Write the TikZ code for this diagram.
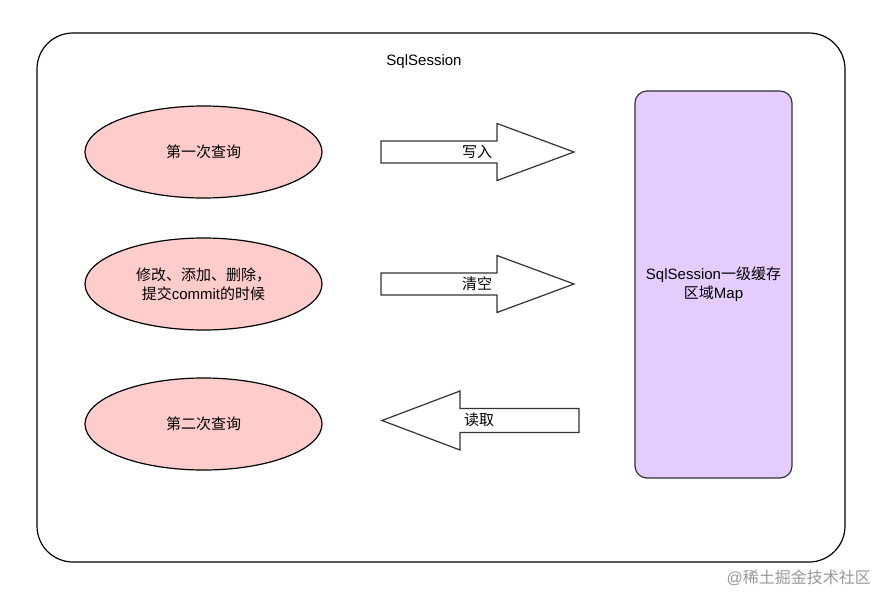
\documentclass[tikz,border=0pt]{standalone}
\usepackage{fontspec}
\setmainfont{Liberation Sans}
\newfontfamily\cjk{Noto Sans CJK SC}
\usetikzlibrary{shapes.geometric}
\begin{document}
\begin{tikzpicture}[x=1pt,y=-1pt,
  every node/.style={font=\fontsize{15}{19}\selectfont, align=center, inner sep=0pt},
  pill/.style={draw=black, fill=pinkfill, line width=1.2pt, ellipse, minimum width=237pt, minimum height=92pt},
  cachebox/.style={draw=black!80, fill=lilac, line width=1.2pt, rounded corners=12pt},
  fatarrow/.style={draw=black!80, fill=white, line width=1.2pt, line join=miter},
  lbl/.style={}
]
\definecolor{pinkfill}{HTML}{FFCCCC}
\definecolor{lilac}{HTML}{E5CCFF}
\useasboundingbox (0,0) rectangle (889,606);
\fill[white] (0,0) rectangle (889,606);
% outer container
\draw[line width=1.2pt, rounded corners=36pt] (37,33) rectangle (845,562);
\node (title) at (424,62) {SqlSession};
% ellipses
\node[pill] (q1) at (203.5,152) {\cjk 第一次查询};
\node[pill] (mod) at (203.5,284) {\cjk 修改、添加、删除，\\{\cjk 提交}commit{\cjk 的时候}};
\node[pill] (q2) at (203.5,424) {\cjk 第二次查询};
% cache box
\draw[cachebox] (635,91) rectangle (792,478);
\node (cache) at (713.5,284) {SqlSession{\cjk 一级缓存}\\{\cjk 区域}Map};
% arrow 1 (write)
\draw[fatarrow] (381,141) -- (497,141) -- (497,123.5) -- (574,152) -- (497,180.5) -- (497,163) -- (381,163) -- cycle;
\node (w) at (477,152) {\cjk 写入};
% arrow 2 (clear)
\draw[fatarrow] (381,273) -- (497,273) -- (497,255.5) -- (574,284) -- (497,312.5) -- (497,295) -- (381,295) -- cycle;
\node (c) at (477,284) {\cjk 清空};
% arrow 3 (read)
\draw[fatarrow] (579,408.5) -- (460,408.5) -- (460,391) -- (382,420.5) -- (460,450) -- (460,432.5) -- (579,432.5) -- cycle;
\node (r) at (479,420) {\cjk 读取};
% watermark
\node[text=black!40, font=\fontsize{16}{18}\selectfont, anchor=east] (wm) at (871,578) {@{\cjk 稀土掘金技术社区}};
\end{tikzpicture}
\end{document}
